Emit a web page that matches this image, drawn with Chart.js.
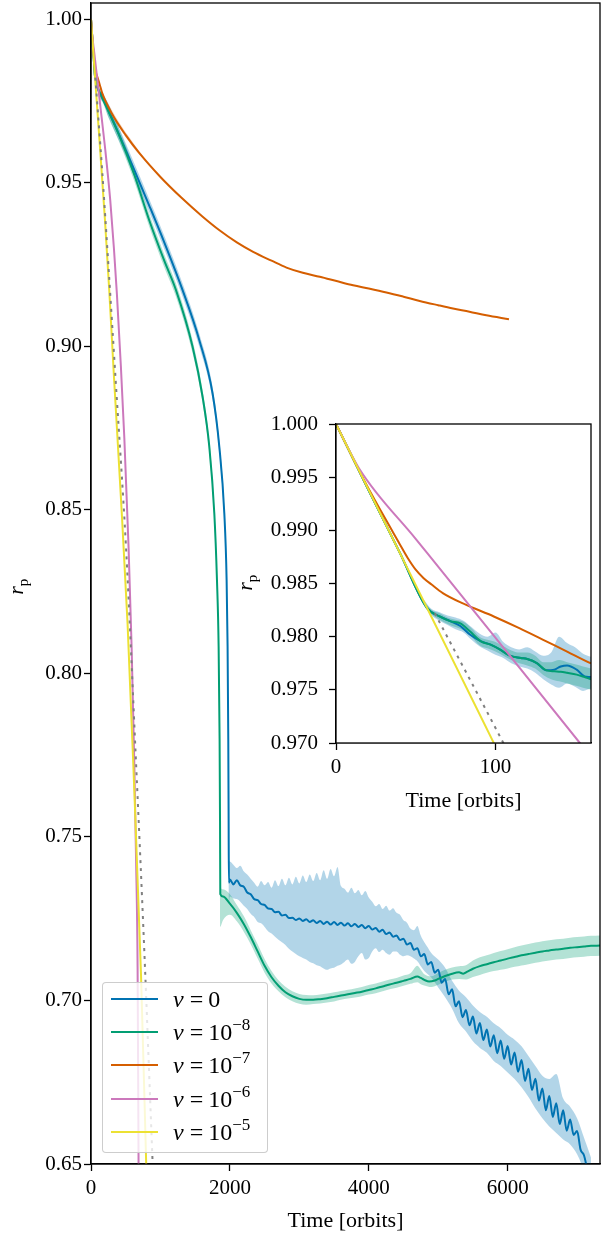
<!DOCTYPE html>
<html>
<head>
<meta charset="utf-8">
<script src="https://cdn.jsdelivr.net/npm/chart.js@4.4.1/dist/chart.umd.min.js"></script>
<style>
  html, body { margin: 0; padding: 0; background: #fff; }
  #wrap { position: relative; width: 601px; height: 1237px; overflow: hidden; }
  #main { position: absolute; left: 0; top: 0; }
  #inset { position: absolute; left: 236px; top: 404px; }
  #legend {
    position: absolute; left: 102px; top: 982px; width: 166px; height: 171px;
    box-sizing: border-box; border: 1px solid rgba(200,200,200,0.9); border-radius: 4px;
    background: rgba(255,255,255,0.8);
    font-family: "Liberation Serif", serif; font-size: 24px; color: #000;
  }
  #legend .row { position: absolute; left: 0; width: 100%; height: 33px; }
  #legend .sw { position: absolute; left: 8px; top: 15px; width: 47px; height: 2px; }
  #legend .tx { position: absolute; left: 70px; top: 0; height: 33px; line-height: 33px; white-space: nowrap; }
  #legend .eq { margin: 0 5px 0 6px; }
  #legend sup { font-size: 17px; vertical-align: 0; position: relative; top: -10px; line-height: 0; }
</style>
</head>
<body>
<div id="wrap">
  <canvas id="main" width="601" height="1237"></canvas>
  <canvas id="inset" width="364" height="416"></canvas>
  <div id="legend"></div>
</div>
<script>
// time in orbits, planet radius r_p
const mainXTicks = [0, 2000, 4000, 6000];
const mainYTicks = [0.65, 0.70, 0.75, 0.80, 0.85, 0.90, 0.95, 1.00];
const insetXTicks = [0, 100];
const insetYTicks = [0.970, 0.975, 0.980, 0.985, 0.990, 0.995, 1.000];

const nuExponents = [null, -8, -7, -6, -5];
const colors = ['#0173b2', '#029e73', '#d55e00', '#cc78bc', '#ece133'];

// nu = 0
const blueLine = [
  [0,1.0],[20,0.9939],[40,0.9879],[57,0.9827],[65,0.9819],[72,0.98144],[78,0.9810],[84,0.9802],
  [91,0.97956],[97,0.97925],[103,0.97878],[109,0.97821],[116,0.9780],[120,0.9779],[126,0.97752],
  [132,0.97683],[137,0.9769],[141,0.9772],[145,0.9773],[151,0.9769],[156,0.97627],[160,0.9762],
  [250,0.9722],[400,0.9650],[623,0.9540],[840,0.9430],[1055,0.9318],[1319,0.9172],[1560,0.9019],
  [1751,0.8856],[1848,0.8693],[1920,0.8489],[1953,0.8286],[1967,0.8082],[1977,0.7797],[1982,0.7550],
  [1986,0.7360],[2000,0.7370],[2050,0.7355],[2100,0.7368],[2150,0.7352],[2200,0.7348],[2250,0.7330],
  [2300,0.7325],[2350,0.7310],[2400,0.7307],[2450,0.7295],[2500,0.7292],[2550,0.7281],[2600,0.7280],
  [2650,0.7270],[2700,0.7271],[2750,0.7260],[2800,0.7262],[2850,0.7252],[2900,0.7253],[2950,0.7246],
  [3000,0.7251],[3050,0.7243],[3100,0.7248],[3150,0.7240],[3200,0.7245],[3250,0.7237],[3300,0.7243],
  [3350,0.7234],[3400,0.7241],[3450,0.7232],[3500,0.7240],[3550,0.7231],[3600,0.7238],[3650,0.7229],
  [3700,0.7236],[3750,0.7227],[3800,0.7234],[3850,0.7225],[3900,0.7231],[3950,0.7221],[4000,0.7228],
  [4050,0.7217],[4100,0.7222],[4150,0.7210],[4200,0.7216],[4250,0.7203],[4300,0.7208],[4350,0.7195],
  [4400,0.7199],[4450,0.7185],[4500,0.7189],[4550,0.7171],[4600,0.7176],[4650,0.7155],[4700,0.7160],
  [4750,0.7135],[4800,0.7142],[4850,0.7110],[4900,0.7118],[4950,0.7085],[5000,0.7094],[5050,0.7054],
  [5100,0.7066],[5150,0.7019],[5200,0.7034],[5250,0.6982],[5300,0.6998],[5350,0.6949],[5400,0.6971],
  [5450,0.6924],[5500,0.6951],[5550,0.6899],[5600,0.6931],[5650,0.6879],[5700,0.6911],[5750,0.6859],
  [5800,0.6894],[5850,0.6839],[5900,0.6878],[5950,0.6822],[6000,0.6861],[6050,0.6804],[6100,0.6841],
  [6150,0.6782],[6200,0.6818],[6250,0.6754],[6300,0.6791],[6350,0.6726],[6400,0.6761],[6450,0.6694],
  [6500,0.6731],[6550,0.6664],[6600,0.6708],[6650,0.6644],[6700,0.6686],[6750,0.6622],[6800,0.6664],
  [6850,0.6602],[6900,0.6636],[6950,0.6589],[7000,0.6601],[7050,0.6544],[7100,0.6526],[7150,0.6480]
];
// [t, low, high] of the raw nu = 0 signal
const blueBand = [
  [55,0.9831,0.9835],[60,0.9820,0.9826],[65,0.9815,0.9823],[70,0.9811,0.9820],[75,0.9807,0.9818],
  [80,0.9804,0.9815],[85,0.9797,0.9809],[90,0.9791,0.9803],[95,0.9787,0.9800],[100,0.9783,0.9804],
  [105,0.9780,0.9795],[110,0.9775,0.9790],[115,0.9772,0.9788],[120,0.9770,0.9790],[125,0.9766,0.9786],
  [130,0.9760,0.9782],[135,0.9755,0.9785],[140,0.9752,0.9800],[145,0.9756,0.9794],[150,0.9753,0.9790],
  [155,0.9749,0.9784],[160,0.9751,0.9781],[250,0.9702,0.9742],[400,0.9630,0.9670],[623,0.9520,0.9560],
  [840,0.9410,0.9450],[1055,0.9298,0.9338],[1319,0.9152,0.9192],[1560,0.8999,0.9039],[1751,0.8836,0.8876],
  [1848,0.8673,0.8713],[1920,0.8469,0.8509],[1953,0.8266,0.8306],[1967,0.8062,0.8102],[1977,0.7777,0.7817],
  [1986,0.7300,0.7430],[2000,0.7318,0.7425],[2050,0.7312,0.7415],[2100,0.7310,0.7405],[2150,0.7302,0.7412],
  [2200,0.7290,0.7395],[2250,0.7280,0.7385],[2300,0.7265,0.7372],[2350,0.7255,0.7360],[2400,0.7240,0.7348],
  [2450,0.7236,0.7365],[2500,0.7225,0.7352],[2550,0.7212,0.7362],[2600,0.7205,0.7345],[2650,0.7195,0.7368],
  [2700,0.7186,0.7350],[2750,0.7178,0.7372],[2800,0.7170,0.7352],[2850,0.7158,0.7375],[2900,0.7150,0.7355],
  [2950,0.7142,0.7378],[3000,0.7135,0.7358],[3050,0.7130,0.7382],[3100,0.7125,0.7362],[3150,0.7118,0.7385],
  [3200,0.7114,0.7365],[3250,0.7108,0.7390],[3300,0.7105,0.7368],[3350,0.7098,0.7398],[3400,0.7094,0.7372],
  [3450,0.7098,0.7402],[3500,0.7100,0.7380],[3550,0.7106,0.7408],[3600,0.7110,0.7350],[3650,0.7118,0.7342],
  [3700,0.7125,0.7330],[3750,0.7112,0.7345],[3800,0.7118,0.7328],[3850,0.7135,0.7338],[3900,0.7145,0.7322],
  [3950,0.7125,0.7335],[4000,0.7130,0.7315],[4050,0.7150,0.7302],[4100,0.7160,0.7288],[4150,0.7148,0.7295],
  [4200,0.7155,0.7280],[4250,0.7145,0.7290],[4300,0.7140,0.7275],[4350,0.7150,0.7282],[4400,0.7150,0.7268],
  [4450,0.7140,0.7262],[4500,0.7135,0.7245],[4550,0.7138,0.7238],[4600,0.7135,0.7220],[4650,0.7128,0.7215],
  [4700,0.7120,0.7228],[4750,0.7105,0.7198],[4800,0.7090,0.7178],[4850,0.7080,0.7162],[4900,0.7070,0.7145],
  [5000,0.7040,0.7125],[5100,0.7010,0.7100],[5200,0.6975,0.7060],[5300,0.6930,0.7030],[5400,0.6905,0.7010],
  [5500,0.6875,0.6985],[5600,0.6855,0.6965],[5700,0.6840,0.6950],[5800,0.6815,0.6930],[5900,0.6800,0.6915],
  [6000,0.6780,0.6895],[6100,0.6760,0.6880],[6200,0.6735,0.6860],[6300,0.6705,0.6830],[6400,0.6670,0.6800],
  [6500,0.6640,0.6770],[6600,0.6615,0.6760],[6700,0.6595,0.6775],[6800,0.6575,0.6700],[6900,0.6560,0.6675],
  [7000,0.6530,0.6640],[7100,0.6480,0.6580],[7200,0.6420,0.6520]
];

// nu = 1e-8
const greenLine = [
  [0,1.0],[20,0.9939],[40,0.9879],[57,0.9827],[65,0.9819],[72,0.98144],[78,0.98125],[84,0.9805],
  [91,0.97956],[97,0.97925],[103,0.97878],[109,0.97821],[116,0.9780],[120,0.9779],[126,0.97752],
  [132,0.97683],[137,0.97674],[141,0.9767],[145,0.9766],[151,0.97643],[156,0.9762],[160,0.9760],
  [250,0.9719],[400,0.9648],[623,0.9525],[840,0.9385],[1055,0.9262],[1224,0.9172],[1463,0.8999],
  [1607,0.8846],[1704,0.8693],[1776,0.8489],[1814,0.8286],[1838,0.8082],[1852,0.7797],[1858,0.7550],
  [1862,0.7325],[1900,0.7318],[2000,0.7296],[2100,0.7268],[2200,0.7234],[2300,0.7194],[2400,0.7150],
  [2500,0.7106],[2600,0.7071],[2700,0.7045],[2800,0.7025],[2900,0.7013],[3000,0.7005],[3100,0.7002],
  [3200,0.7002],[3300,0.7004],[3400,0.7007],[3500,0.7011],[3600,0.7015],[3700,0.7019],[3800,0.7023],
  [3900,0.7027],[4000,0.7032],[4100,0.7037],[4200,0.7043],[4300,0.7049],[4400,0.7054],[4500,0.7060],
  [4600,0.7066],[4700,0.7073],[4750,0.7069],[4800,0.7063],[4870,0.7058],[4950,0.7061],[5000,0.7066],
  [5100,0.7075],[5200,0.7082],[5300,0.7086],[5360,0.7082],[5420,0.7088],[5500,0.7097],[5600,0.7105],
  [5700,0.7111],[5800,0.7117],[5900,0.7122],[6000,0.7128],[6100,0.7133],[6200,0.7138],[6300,0.7142],
  [6400,0.7146],[6500,0.7150],[6600,0.7153],[6700,0.7156],[6800,0.7158],[6900,0.7161],[7000,0.7163],
  [7100,0.7165],[7200,0.7167],[7330,0.7168]
];
const greenBand = [
  [55,0.9832,0.9834],[60,0.9821,0.9825],[65,0.9816,0.9822],[70,0.9812,0.9818],[75,0.9809,0.9816],
  [80,0.9806,0.9814],[85,0.9800,0.9808],[90,0.9792,0.9800],[95,0.9789,0.9797],[100,0.9786,0.9795],
  [105,0.9782,0.9791],[110,0.9778,0.9787],[115,0.9775,0.9785],[120,0.9773,0.9785],[125,0.9770,0.9782],
  [130,0.9764,0.9776],[135,0.9760,0.9776],[140,0.9758,0.9778],[145,0.9756,0.9776],[150,0.9754,0.9774],
  [155,0.9752,0.9772],[160,0.9750,0.9770],[250,0.9700,0.9738],[400,0.9628,0.9668],[623,0.9505,0.9545],
  [840,0.9365,0.9405],[1055,0.9242,0.9282],[1224,0.9152,0.9192],[1463,0.8979,0.9019],[1607,0.8826,0.8866],
  [1704,0.8673,0.8713],[1776,0.8469,0.8509],[1814,0.8266,0.8306],[1838,0.8062,0.8102],[1852,0.7777,0.7817],
  [1862,0.7225,0.7348],[1900,0.7245,0.7340],[2000,0.7262,0.7325],[2100,0.7242,0.7292],[2200,0.7210,0.7258],
  [2300,0.7172,0.7215],[2400,0.7128,0.7172],[2500,0.7085,0.7127],[2600,0.7052,0.7090],[2700,0.7028,0.7062],
  [2800,0.7010,0.7042],[2900,0.6998,0.7028],[3000,0.6990,0.7020],[3100,0.6987,0.7017],[3200,0.6989,0.7016],
  [3300,0.6991,0.7018],[3400,0.6994,0.7021],[3500,0.6997,0.7025],[3600,0.7002,0.7029],[3700,0.7006,0.7033],
  [3800,0.7009,0.7037],[3900,0.7013,0.7041],[4000,0.7018,0.7047],[4100,0.7022,0.7052],[4200,0.7028,0.7058],
  [4300,0.7034,0.7064],[4400,0.7039,0.7069],[4500,0.7045,0.7076],[4600,0.7051,0.7083],[4700,0.7056,0.7106],
  [4750,0.7050,0.7094],[4800,0.7046,0.7080],[4900,0.7041,0.7074],[5000,0.7048,0.7084],[5100,0.7057,0.7094],
  [5200,0.7064,0.7101],[5300,0.7066,0.7105],[5400,0.7064,0.7108],[5500,0.7072,0.7122],[5600,0.7078,0.7132],
  [5700,0.7085,0.7138],[5800,0.7090,0.7145],[5900,0.7094,0.7151],[6000,0.7098,0.7157],[6100,0.7103,0.7163],
  [6200,0.7107,0.7168],[6300,0.7111,0.7173],[6400,0.7115,0.7177],[6500,0.7119,0.7181],[6600,0.7122,0.7184],
  [6700,0.7125,0.7187],[6800,0.7127,0.7189],[6900,0.7130,0.7192],[7000,0.7132,0.7194],[7100,0.7134,0.7196],
  [7200,0.7136,0.7198],[7330,0.7137,0.7199]
];

// nu = 1e-7
const orangeLine = [
  [0,1.0],[18,0.9946],[36,0.98975],[40,0.9887],[45,0.9874],[50,0.9863],[55,0.9855],[60,0.9849],
  [67,0.9841],[80,0.9831],[99,0.9819],[115,0.9808],[130,0.9797],[145,0.9786],[160,0.9775],[300,0.9712],
  [500,0.9646],[700,0.9590],[1000,0.9518],[1300,0.9455],[1600,0.9398],[1850,0.9355],[2100,0.9318],
  [2335,0.9289],[2600,0.9262],[2815,0.9241],[3050,0.9225],[3295,0.9213],[3550,0.9199],[3774,0.9187],
  [4000,0.9177],[4254,0.9165],[4500,0.9152],[4734,0.9139],[5000,0.9126],[5213,0.9116],[5450,0.9106],
  [5693,0.9095],[6019,0.9083]
];
const orangeBand = [
  [160,0.9775,0.9775],[250,0.9724,0.9742],[400,0.9671,0.9687],[550,0.9625,0.9640],[700,0.9585,0.9595],
  [800,0.9567,0.9567]
];

// nu = 1e-6
const pinkLine = [
  [0,1.0],[15,0.9957],[50,0.9892],[100,0.9799],[153,0.9700],[200,0.9612],[277,0.9447],[330,0.9300],
  [373,0.9160],[430,0.8940],[480,0.8720],[541,0.8386],[585,0.8080],[624,0.7720],[650,0.7420],
  [671,0.7100],[685,0.6500]
];

// nu = 1e-5
const yellowLine = [
  [0,1.0],[100,0.9697],[200,0.9390],[263,0.9170],[330,0.8910],[430,0.8540],[527,0.8150],[613,0.7700],
  [720,0.7080],[795,0.6500]
];

// dotted reference track
const grayLine = [
  [62,0.9822],[105,0.9700],[160,0.9540],[250,0.9250],[360,0.8880],[504,0.8386],[648,0.7730],
  [768,0.7150],[888,0.6500]
];

const FONT = '"Liberation Serif", serif';
Chart.defaults.font.family = FONT;
Chart.defaults.font.size = 21;
Chart.defaults.color = '#000';

const pts = arr => arr.map(p => ({ x: p[0], y: p[1] }));
const bandPts = (arr, i) => arr.map(p => ({ x: p[0], y: p[i] }));

function rgba(hex, a) {
  const n = parseInt(hex.slice(1), 16);
  return 'rgba(' + (n >> 16) + ',' + ((n >> 8) & 255) + ',' + (n & 255) + ',' + a + ')';
}

function lineSet(data, color, order, extra) {
  return Object.assign({
    data: pts(data), borderColor: color, borderWidth: 2, pointRadius: 0,
    fill: false, cubicInterpolationMode: 'monotone', order: order
  }, extra || {});
}

function bandSets(band, color, alpha, order) {
  return [
    { data: bandPts(band, 2), borderWidth: 0, pointRadius: 0, borderColor: 'transparent',
      backgroundColor: rgba(color, alpha), fill: '+1', cubicInterpolationMode: 'monotone', order: order },
    { data: bandPts(band, 1), borderWidth: 0, pointRadius: 0, borderColor: 'transparent',
      fill: false, cubicInterpolationMode: 'monotone', order: order }
  ];
}

function buildDatasets() {
  return [
    ...bandSets(blueBand, colors[0], 0.3, 8),
    ...bandSets(greenBand, colors[1], 0.3, 7),
    ...bandSets(orangeBand, colors[2], 0.25, 9),
    lineSet(blueLine, colors[0], 5),
    lineSet(greenLine, colors[1], 4),
    lineSet(orangeLine, colors[2], 3),
    lineSet(pinkLine, colors[3], 2),
    lineSet(yellowLine, colors[4], 1),
    lineSet(grayLine, '#808080', 0, { borderDash: [3, 5] })
  ];
}

// full frame round the plot area, white face for the inset
const frame = {
  id: 'frame',
  beforeDatasetsDraw(chart, args, opts) {
    if (!opts.white) return;
    const a = chart.chartArea;
    chart.ctx.save();
    chart.ctx.fillStyle = '#fff';
    chart.ctx.fillRect(a.left, a.top, a.right - a.left, a.bottom - a.top);
    chart.ctx.restore();
  },
  afterDraw(chart) {
    const { ctx, chartArea: a } = chart;
    ctx.save();
    ctx.strokeStyle = '#000';
    ctx.lineWidth = 1.3;
    ctx.strokeRect(a.left, a.top, a.right - a.left, a.bottom - a.top);
    ctx.restore();
  }
};

// y label: italic r with upright subscript p
const rpLabel = {
  id: 'rpLabel',
  afterDraw(chart, args, opts) {
    const { ctx, chartArea: a } = chart;
    ctx.save();
    ctx.translate(opts.x, (a.top + a.bottom) / 2 + opts.dy);
    ctx.rotate(-Math.PI / 2);
    ctx.fillStyle = '#000';
    ctx.textBaseline = 'alphabetic';
    ctx.font = 'italic 22px ' + FONT;
    const w = ctx.measureText('r').width;
    ctx.fillText('r', -w / 2 - 3, 0);
    ctx.font = '15px ' + FONT;
    ctx.fillText('p', w / 2 - 3, 5);
    ctx.restore();
  }
};

function axes(xMin, xMax, yMin, yMax, xTicks, yTicks, yDigits, yWidth, xHeight, titlePad, yPad) {
  const grid = { drawOnChartArea: false, drawTicks: true, tickLength: 7, tickWidth: 1.3, tickColor: '#000' };
  return {
    x: {
      type: 'linear', min: xMin, max: xMax,
      grid: grid, border: { display: true, color: '#000', width: 1.3 },
      afterBuildTicks: s => { s.ticks = xTicks.map(v => ({ value: v })); },
      afterFit: s => { s.height = xHeight; s.paddingLeft = 0; s.paddingRight = 0; },
      ticks: { autoSkip: false, maxRotation: 0, padding: 5, callback: v => String(v) },
      title: { display: true, text: 'Time [orbits]', font: { size: 22 }, padding: { top: 0, bottom: titlePad } }
    },
    y: {
      type: 'linear', min: yMin, max: yMax,
      grid: grid, border: { display: true, color: '#000', width: 1.3 },
      afterBuildTicks: s => { s.ticks = yTicks.map(v => ({ value: v })); },
      afterFit: s => { s.width = yWidth; s.paddingTop = 0; s.paddingBottom = 0; },
      ticks: { autoSkip: false, padding: yPad, callback: v => v.toFixed(yDigits) }
    }
  };
}

new Chart(document.getElementById('main'), {
  type: 'line',
  data: { datasets: buildDatasets() },
  options: {
    responsive: false, animation: false,
    layout: { padding: { top: 3, right: 1, left: 0, bottom: 0 } },
    plugins: {
      legend: { display: false }, tooltip: { enabled: false },
      rpLabel: { x: 23, dy: 4 }, frame: { white: false }
    },
    scales: axes(0, 7330, 0.65, 1.005, mainXTicks, mainYTicks, 2, 91, 73, 3, 2)
  },
  plugins: [frame, rpLabel]
});

new Chart(document.getElementById('inset'), {
  type: 'line',
  data: { datasets: buildDatasets() },
  options: {
    responsive: false, animation: false,
    layout: { padding: { top: 20, right: 9, left: 0, bottom: 0 } },
    plugins: {
      legend: { display: false }, tooltip: { enabled: false },
      rpLabel: { x: 16, dy: 0 }, frame: { white: true }
    },
    scales: axes(0, 160, 0.970, 1.000, insetXTicks, insetYTicks, 3, 100, 77, 6, 11)
  },
  plugins: [frame, rpLabel]
});

// legend, drawn from the same series arrays
const legend = document.getElementById('legend');
nuExponents.forEach((e, i) => {
  const row = document.createElement('div');
  row.className = 'row';
  row.style.top = (i * 33.2) + 'px';
  const rhs = e === null ? '0' : '10<sup>−' + Math.abs(e) + '</sup>';
  row.innerHTML = '<div class="sw" style="background:' + colors[i] + '"></div>' +
    '<div class="tx"><i>ν</i><span class="eq">=</span>' + rhs + '</div>';
  legend.appendChild(row);
});
</script>
</body>
</html>
